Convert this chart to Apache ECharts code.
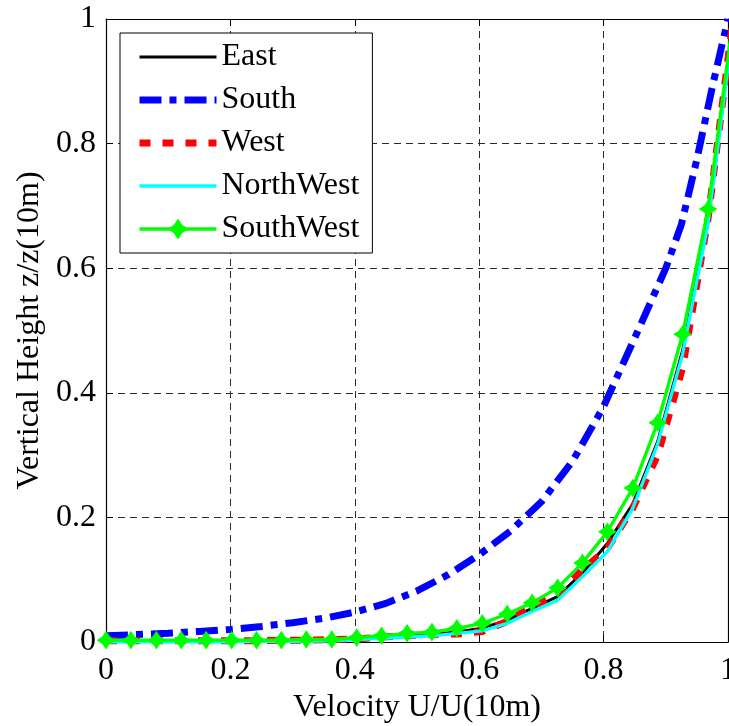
<!DOCTYPE html>
<html><head><meta charset="utf-8">
<script src="https://cdn.jsdelivr.net/npm/echarts@6/dist/echarts.min.js"></script>
<style>html,body{margin:0;padding:0;background:#fff}#c{width:729px;height:726px}</style>
</head><body><div id="c"></div>
<script>
// ---- data ----
const seriesNames = ['East', 'South', 'West', 'NorthWest', 'SouthWest'];
const xTickValues = [0, 0.2, 0.4, 0.6, 0.8, 1];
const yTickValues = [0, 0.2, 0.4, 0.6, 0.8, 1];
const profileX = [0, 0.040, 0.081, 0.121, 0.161, 0.202, 0.242, 0.282, 0.322, 0.363, 0.403, 0.443, 0.484,
  0.524, 0.564, 0.605, 0.645, 0.685, 0.726, 0.766, 0.806, 0.847, 0.887, 0.927, 0.968, 1.008];
const eastY = [0.001, 0.001, 0.001, 0.001, 0.001, 0.001, 0.001, 0.001, 0.002, 0.003, 0.005, 0.007, 0.010,
  0.012, 0.016, 0.022, 0.035, 0.054, 0.073, 0.111, 0.158, 0.222, 0.322, 0.468, 0.675, 0.99];
const westY = [0.002, 0.002, 0.002, 0.002, 0.002, 0.002, 0.002, 0.003, 0.003, 0.004, 0.005, 0.008, 0.010,
  0.012, 0.013, 0.017, 0.033, 0.057, 0.075, 0.116, 0.150, 0.215, 0.300, 0.440, 0.680, 1.0];
const northWestY = [0.000, 0.000, 0.000, 0.000, 0.000, 0.000, 0.001, 0.001, 0.001, 0.002, 0.004, 0.006, 0.008,
  0.010, 0.014, 0.018, 0.030, 0.049, 0.067, 0.105, 0.145, 0.215, 0.318, 0.462, 0.672, 0.985];
const southWestY = [0.003, 0.003, 0.003, 0.003, 0.003, 0.003, 0.003, 0.003, 0.004, 0.004, 0.007, 0.010, 0.014,
  0.016, 0.022, 0.030, 0.045, 0.063, 0.087, 0.127, 0.177, 0.247, 0.352, 0.494, 0.695, 1.0];
const southX = [0, 0.05, 0.1, 0.15, 0.2, 0.25, 0.3, 0.35, 0.4, 0.45, 0.5, 0.55, 0.6, 0.65, 0.7, 0.75, 0.8, 0.85,
  0.9, 0.925, 0.95, 0.975, 1.0];
const southY = [0.010, 0.012, 0.014, 0.017, 0.020, 0.025, 0.031, 0.038, 0.048, 0.062, 0.082, 0.108, 0.140, 0.178,
  0.225, 0.290, 0.378, 0.488, 0.600, 0.670, 0.775, 0.892, 1.0];

const pairs = (xs, ys) => xs.map((x, i) => [x, ys[i]]);
const FONT = 'Liberation Serif';
const starPath = 'path://M0,-10 L4,-4 L10,0 L4,4 L0,10 L-4,4 L-10,0 L-4,-4 Z';

const tickInside = { show: true, inside: true, length: 7, lineStyle: { color: '#000', width: 1 } };
const axLine = { show: true, onZero: false, lineStyle: { color: '#000', width: 1.2 } };
const gridDash = { show: true, lineStyle: { color: '#2a2a2a', width: 1, type: [7, 5] } };
const labelStyle = { fontFamily: FONT, fontSize: 32, color: '#000' };

const legendData = seriesNames.map(n => n === 'SouthWest' ? { name: n } : { name: n, itemStyle: { opacity: 0 } });

const chart = echarts.init(document.getElementById('c'), null, { renderer: 'canvas' });
chart.setOption({
  animation: false,
  backgroundColor: '#fff',
  grid: { left: 106, right: 1, top: 19, bottom: 84, containLabel: false, outerBoundsMode: 'none' },
  legend: {
    orient: 'vertical', left: 120, top: 33, align: 'left',
    backgroundColor: '#fff', borderColor: '#000', borderWidth: 1, borderRadius: 0,
    padding: [8, 13, 8, 16], itemGap: 11, itemWidth: 77, itemHeight: 22,
    selectedMode: false,
    data: legendData,
    lineStyle: { width: 'inherit' },
    textStyle: { fontFamily: FONT, fontSize: 32, color: '#000', lineHeight: 32 }
  },
  xAxis: [
    { type: 'value', min: 0, max: 1, interval: 0.2, position: 'bottom',
      axisLine: axLine, axisTick: tickInside, splitLine: gridDash,
      axisLabel: Object.assign({ margin: 13, showMaxLabel: true, showMinLabel: true,
        customValues: xTickValues }, labelStyle),
      name: 'Velocity U/U(10m)', nameLocation: 'middle', nameGap: 37,
      nameTextStyle: { fontFamily: FONT, fontSize: 32, color: '#000' } },
    { type: 'value', min: 0, max: 1, interval: 0.2, position: 'top',
      axisLine: axLine, axisTick: tickInside, splitLine: { show: false }, axisLabel: { show: false } }
  ],
  yAxis: [
    { type: 'value', min: 0, max: 1, interval: 0.2, position: 'left',
      axisLine: axLine, axisTick: tickInside, splitLine: gridDash,
      axisLabel: Object.assign({ margin: 10, customValues: yTickValues }, labelStyle),
      name: 'Vertical Height z/z(10m)', nameLocation: 'middle', nameGap: 58,
      nameTextStyle: { fontFamily: FONT, fontSize: 32, color: '#000' } },
    { type: 'value', min: 0, max: 1, interval: 0.2, position: 'right',
      axisLine: axLine, axisTick: tickInside, splitLine: { show: false }, axisLabel: { show: false } }
  ],
  series: [
    { name: 'East', type: 'line', data: pairs(profileX, eastY), symbol: 'none', clip: true,
      lineStyle: { color: '#000', width: 3 }, itemStyle: { color: '#000' } },
    { name: 'South', type: 'line', data: pairs(southX, southY), symbol: 'none', clip: true,
      lineStyle: { color: '#0000ff', width: 7, type: [22, 8, 7, 8], cap: 'butt' }, itemStyle: { color: '#0000ff' } },
    { name: 'West', type: 'line', data: pairs(profileX, westY), symbol: 'none', clip: true,
      lineStyle: { color: '#ff0000', width: 7, type: [11, 12], cap: 'butt' }, itemStyle: { color: '#ff0000' } },
    { name: 'NorthWest', type: 'line', data: pairs(profileX, northWestY), symbol: 'none', clip: true,
      lineStyle: { color: '#00ffff', width: 3.3 }, itemStyle: { color: '#00ffff' } },
    { name: 'SouthWest', type: 'line', data: pairs(profileX, southWestY), symbol: starPath, symbolSize: 16,
      showSymbol: true, clip: true,
      lineStyle: { color: '#00ff00', width: 3.3 },
      itemStyle: { color: '#00ff00', borderColor: '#00ff00', borderWidth: 1.5 } }
  ]
});
</script>
</body></html>
